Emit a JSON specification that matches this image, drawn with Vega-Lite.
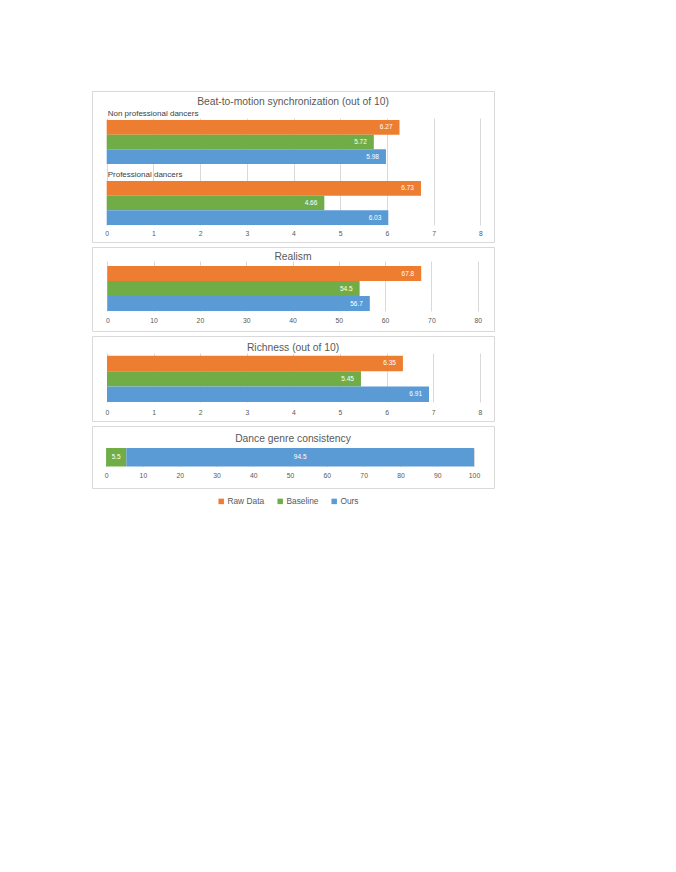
{
  "$schema": "https://vega.github.io/schema/vega-lite/v6.json",
  "background": "white",
  "padding": {"left": 91, "top": 90, "right": 0, "bottom": 0},
  "spacing": 3,
  "datasets": {
    "beat": [
      {"group": "Non professional dancers", "series": "Raw Data", "value": 6.27},
      {"group": "Non professional dancers", "series": "Baseline", "value": 5.72},
      {"group": "Non professional dancers", "series": "Ours", "value": 5.98},
      {"group": "Professional dancers", "series": "Raw Data", "value": 6.73},
      {"group": "Professional dancers", "series": "Baseline", "value": 4.66},
      {"group": "Professional dancers", "series": "Ours", "value": 6.03}
    ],
    "realism": [
      {"series": "Raw Data", "value": 67.8},
      {"series": "Baseline", "value": 54.5},
      {"series": "Ours", "value": 56.7}
    ],
    "richness": [
      {"series": "Raw Data", "value": 6.35},
      {"series": "Baseline", "value": 5.45},
      {"series": "Ours", "value": 6.91}
    ],
    "genre": [
      {"metric": "Dance genre consistency", "series": "Baseline", "value": 5.5},
      {"metric": "Dance genre consistency", "series": "Ours", "value": 94.5}
    ]
  },
  "config": {
    "font": "Liberation Sans",
    "view": {"stroke": "#d9d9d9", "strokeWidth": 1},
    "axis": {
      "labelFont": "Liberation Sans",
      "labelFontSize": 6.8,
      "labelColor": "#595959",
      "gridColor": "#d9d9d9",
      "gridWidth": 1,
      "domain": false,
      "ticks": false,
      "labelPadding": 3,
      "labelFlush": false,
      "labelOverlap": false
    },
    "title": {
      "font": "Liberation Sans",
      "fontSize": 10.3,
      "fontWeight": "normal",
      "color": "#595959",
      "anchor": "middle",
      "frame": "group"
    },
    "legend": {
      "orient": "none",
      "legendX": 125,
      "legendY": 406,
      "direction": "horizontal",
      "symbolType": "square",
      "symbolSize": 30,
      "symbolStrokeWidth": 0,
      "labelFont": "Liberation Sans",
      "labelFontSize": 8.4,
      "labelColor": "#595959",
      "labelOffset": 2,
      "columnPadding": 11
    }
  },
  "resolve": {"scale": {"x": "independent", "y": "independent"}},
  "vconcat": [
    {
      "width": 402,
      "height": 151,
      "title": {"text": "Beat-to-motion synchronization (out of 10)", "offset": -16.2},
      "data": {"name": "beat"},
      "resolve": {"axis": {"x": "independent"}},
      "encoding": {
        "y": {"field": "group", "type": "nominal", "axis": null,
              "sort": ["Non professional dancers", "Professional dancers"],
              "scale": {"range": [27, 134], "paddingInner": 0.2787, "paddingOuter": 0.0164, "align": 1}}
      },
      "layer": [
        {
          "mark": {"type": "bar"},
          "encoding": {
            "x": {"field": "value", "type": "quantitative",
                  "scale": {"domain": [0, 8], "range": [14.7, 388.3], "nice": false, "zero": true},
                  "axis": {"orient": "bottom", "values": [0, 1, 2, 3, 4, 5, 6, 7, 8], "grid": false, "offset": -14.8, "title": null}},
            "yOffset": {"field": "series", "type": "nominal", "sort": ["Raw Data", "Baseline", "Ours"],
                        "scale": {"paddingInner": 0, "paddingOuter": 0}},
            "color": {"field": "series", "type": "nominal", "title": null,
                      "scale": {"domain": ["Raw Data", "Baseline", "Ours"], "range": ["#ED7D31", "#70AD47", "#5B9BD5"]}}
          }
        },
        {
          "mark": {"type": "text", "align": "right", "baseline": "middle", "dx": -7, "fontSize": 6.5, "color": "#ffffff"},
          "encoding": {
            "x": {"field": "value", "type": "quantitative",
                  "axis": {"orient": "top", "values": [0, 1, 2, 3, 4, 5, 6, 7, 8], "grid": true, "labels": false, "title": null}},
            "yOffset": {"field": "series", "type": "nominal", "sort": ["Raw Data", "Baseline", "Ours"]},
            "text": {"field": "value", "type": "quantitative", "format": ".2f"}
          }
        },
        {
          "transform": [{"filter": "datum.series === 'Raw Data'"}],
          "mark": {"type": "text", "align": "left", "baseline": "middle", "dx": 1, "dy": -6, "fontSize": 8, "color": "#404040"},
          "encoding": {
            "x": {"datum": 0, "type": "quantitative", "axis": null},
            "y": {"field": "group", "type": "nominal", "bandPosition": 0},
            "text": {"field": "group", "type": "nominal"}
          }
        }
      ]
    },
    {
      "width": 402,
      "height": 84,
      "title": {"text": "Realism", "offset": -15.5},
      "data": {"name": "realism"},
      "resolve": {"axis": {"x": "independent"}},
      "encoding": {
        "y": {"field": "series", "type": "nominal", "axis": null,
              "sort": ["Raw Data", "Baseline", "Ours"],
              "scale": {"range": [14, 64], "paddingInner": 0, "paddingOuter": 0.1667, "align": 1}}
      },
      "layer": [
        {
          "mark": {"type": "bar"},
          "encoding": {
            "x": {"field": "value", "type": "quantitative",
                  "scale": {"domain": [0, 80], "range": [15.3, 385.7], "nice": false},
                  "axis": {"orient": "bottom", "values": [0, 10, 20, 30, 40, 50, 60, 70, 80], "grid": false, "offset": -16.8, "title": null}},
            "color": {"field": "series", "type": "nominal", "title": null,
                      "scale": {"domain": ["Raw Data", "Baseline", "Ours"], "range": ["#ED7D31", "#70AD47", "#5B9BD5"]}}
          }
        },
        {
          "mark": {"type": "text", "align": "right", "baseline": "middle", "dx": -7, "fontSize": 6.5, "color": "#ffffff"},
          "encoding": {
            "x": {"field": "value", "type": "quantitative",
                  "axis": {"orient": "top", "values": [0, 10, 20, 30, 40, 50, 60, 70, 80], "grid": true, "labels": false, "title": null}},
            "text": {"field": "value", "type": "quantitative", "format": ".1f"}
          }
        }
      ]
    },
    {
      "width": 402,
      "height": 85,
      "title": {"text": "Richness (out of 10)", "offset": -16.8},
      "data": {"name": "richness"},
      "resolve": {"axis": {"x": "independent"}},
      "encoding": {
        "y": {"field": "series", "type": "nominal", "axis": null,
              "sort": ["Raw Data", "Baseline", "Ours"],
              "scale": {"range": [17, 66], "paddingInner": 0, "paddingOuter": 0.0875, "align": 1}}
      },
      "layer": [
        {
          "mark": {"type": "bar"},
          "encoding": {
            "x": {"field": "value", "type": "quantitative",
                  "scale": {"domain": [0, 8], "range": [15, 387.8], "nice": false},
                  "axis": {"orient": "bottom", "values": [0, 1, 2, 3, 4, 5, 6, 7, 8], "grid": false, "offset": -14.5, "title": null}},
            "color": {"field": "series", "type": "nominal", "title": null,
                      "scale": {"domain": ["Raw Data", "Baseline", "Ours"], "range": ["#ED7D31", "#70AD47", "#5B9BD5"]}}
          }
        },
        {
          "mark": {"type": "text", "align": "right", "baseline": "middle", "dx": -7, "fontSize": 6.5, "color": "#ffffff"},
          "encoding": {
            "x": {"field": "value", "type": "quantitative",
                  "axis": {"orient": "top", "values": [0, 1, 2, 3, 4, 5, 6, 7, 8], "grid": true, "labels": false, "title": null}},
            "text": {"field": "value", "type": "quantitative", "format": ".2f"}
          }
        }
      ]
    },
    {
      "width": 402,
      "height": 62,
      "title": {"text": "Dance genre consistency", "offset": -18.5},
      "data": {"name": "genre"},
      "resolve": {"axis": {"x": "independent"}},
      "transform": [
        {"stack": "value", "groupby": ["metric"], "sort": [{"field": "series", "order": "ascending"}], "as": ["v0", "v1"]},
        {"calculate": "(datum.v0 + datum.v1) / 2", "as": "mid"}
      ],
      "encoding": {
        "y": {"field": "metric", "type": "nominal", "axis": null,
              "scale": {"range": [22, 40.5], "paddingInner": 0, "paddingOuter": 0}}
      },
      "layer": [
        {
          "mark": {"type": "bar"},
          "encoding": {
            "x": {"field": "v0", "type": "quantitative",
                  "scale": {"domain": [0, 100], "range": [14.1, 382], "nice": false},
                  "axis": {"orient": "bottom", "values": [0, 10, 20, 30, 40, 50, 60, 70, 80, 90, 100], "grid": false, "offset": -18.2, "title": null}},
            "x2": {"field": "v1"},
            "color": {"field": "series", "type": "nominal", "title": null,
                      "scale": {"domain": ["Raw Data", "Baseline", "Ours"], "range": ["#ED7D31", "#70AD47", "#5B9BD5"]}}
          }
        },
        {
          "mark": {"type": "text", "align": "center", "baseline": "middle", "fontSize": 6.5, "color": "#ffffff"},
          "encoding": {
            "x": {"field": "mid", "type": "quantitative",
                  "axis": {"orient": "top", "values": [0, 10, 20, 30, 40, 50, 60, 70, 80, 90, 100], "grid": true, "labels": false, "title": null}},
            "text": {"field": "value", "type": "quantitative", "format": ".1f"}
          }
        }
      ]
    }
  ]
}
